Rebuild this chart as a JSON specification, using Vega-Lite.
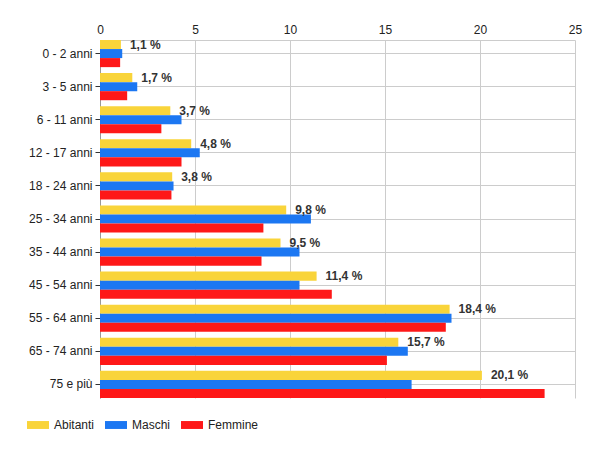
{
  "$schema": "https://vega.github.io/schema/vega-lite/v6.json",
  "autosize": {"type": "none"},
  "width": 475,
  "height": 358,
  "padding": {"left": 100, "top": 40, "right": 25, "bottom": 52},
  "background": "white",
  "config": {
    "font": "Liberation Sans",
    "view": {"stroke": null},
    "axis": {"labelFont": "Liberation Sans", "labelFontSize": 12, "labelColor": "#222222"}
  },
  "data": {
    "values": [
      {"eta": "0 - 2 anni", "serie": "Abitanti", "valore": 1.1, "etichetta": "1,1 %"},
      {"eta": "0 - 2 anni", "serie": "Maschi", "valore": 1.17},
      {"eta": "0 - 2 anni", "serie": "Femmine", "valore": 1.06},
      {"eta": "3 - 5 anni", "serie": "Abitanti", "valore": 1.7, "etichetta": "1,7 %"},
      {"eta": "3 - 5 anni", "serie": "Maschi", "valore": 1.96},
      {"eta": "3 - 5 anni", "serie": "Femmine", "valore": 1.43},
      {"eta": "6 - 11 anni", "serie": "Abitanti", "valore": 3.7, "etichetta": "3,7 %"},
      {"eta": "6 - 11 anni", "serie": "Maschi", "valore": 4.29},
      {"eta": "6 - 11 anni", "serie": "Femmine", "valore": 3.23},
      {"eta": "12 - 17 anni", "serie": "Abitanti", "valore": 4.8, "etichetta": "4,8 %"},
      {"eta": "12 - 17 anni", "serie": "Maschi", "valore": 5.25},
      {"eta": "12 - 17 anni", "serie": "Femmine", "valore": 4.29},
      {"eta": "18 - 24 anni", "serie": "Abitanti", "valore": 3.8, "etichetta": "3,8 %"},
      {"eta": "18 - 24 anni", "serie": "Maschi", "valore": 3.87},
      {"eta": "18 - 24 anni", "serie": "Femmine", "valore": 3.76},
      {"eta": "25 - 34 anni", "serie": "Abitanti", "valore": 9.8, "etichetta": "9,8 %"},
      {"eta": "25 - 34 anni", "serie": "Maschi", "valore": 11.1},
      {"eta": "25 - 34 anni", "serie": "Femmine", "valore": 8.6},
      {"eta": "35 - 44 anni", "serie": "Abitanti", "valore": 9.5, "etichetta": "9,5 %"},
      {"eta": "35 - 44 anni", "serie": "Maschi", "valore": 10.5},
      {"eta": "35 - 44 anni", "serie": "Femmine", "valore": 8.5},
      {"eta": "45 - 54 anni", "serie": "Abitanti", "valore": 11.4, "etichetta": "11,4 %"},
      {"eta": "45 - 54 anni", "serie": "Maschi", "valore": 10.5},
      {"eta": "45 - 54 anni", "serie": "Femmine", "valore": 12.2},
      {"eta": "55 - 64 anni", "serie": "Abitanti", "valore": 18.4, "etichetta": "18,4 %"},
      {"eta": "55 - 64 anni", "serie": "Maschi", "valore": 18.5},
      {"eta": "55 - 64 anni", "serie": "Femmine", "valore": 18.2},
      {"eta": "65 - 74 anni", "serie": "Abitanti", "valore": 15.7, "etichetta": "15,7 %"},
      {"eta": "65 - 74 anni", "serie": "Maschi", "valore": 16.2},
      {"eta": "65 - 74 anni", "serie": "Femmine", "valore": 15.1},
      {"eta": "75 e più", "serie": "Abitanti", "valore": 20.1, "etichetta": "20,1 %"},
      {"eta": "75 e più", "serie": "Maschi", "valore": 16.4},
      {"eta": "75 e più", "serie": "Femmine", "valore": 23.4}
    ]
  },
  "encoding": {
    "y": {
      "field": "eta",
      "type": "nominal",
      "sort": null,
      "title": null,
      "scale": {"paddingInner": 0.18, "paddingOuter": 0},
      "axis": {
        "domainColor": "#999999",
        "tickColor": "#333333",
        "tickSize": 5,
        "labelPadding": 3,
        "grid": true,
        "gridColor": "#cccccc"
      }
    },
    "x": {
      "field": "valore",
      "type": "quantitative",
      "title": null,
      "scale": {"domain": [0, 25], "nice": false},
      "axis": {
        "orient": "top",
        "values": [0, 5, 10, 15, 20, 25],
        "ticks": false,
        "labelPadding": 4,
        "domainColor": "#cccccc",
        "gridColor": "#cccccc",
        "labelFlush": false
      }
    },
    "yOffset": {
      "field": "serie",
      "type": "nominal",
      "sort": ["Abitanti", "Maschi", "Femmine"],
      "scale": {"domain": ["Abitanti", "Maschi", "Femmine"], "paddingInner": 0, "paddingOuter": 0}
    }
  },
  "layer": [
    {
      "mark": {"type": "bar"},
      "encoding": {
        "color": {
          "field": "serie",
          "type": "nominal",
          "scale": {"domain": ["Abitanti", "Maschi", "Femmine"], "range": ["#F9D43A", "#1C77F2", "#FE1818"]},
          "legend": {
            "title": null,
            "orient": "none",
            "direction": "horizontal",
            "legendX": -73,
            "legendY": 374,
            "symbolType": "M-1,-0.36L1,-0.36L1,0.36L-1,0.36Z",
            "symbolSize": 484,
            "symbolStrokeWidth": 0,
            "symbolOpacity": 1,
            "labelFontSize": 12,
            "labelColor": "#222222",
            "labelFont": "Liberation Sans",
            "columnPadding": 10,
            "labelOffset": 5
          }
        }
      }
    },
    {
      "transform": [{"filter": "datum.etichetta != null"}],
      "mark": {"type": "text", "align": "left", "baseline": "middle", "dx": 9, "fontWeight": "bold", "fontSize": 12, "color": "#333333", "font": "Liberation Sans"},
      "encoding": {"text": {"field": "etichetta", "type": "nominal"}}
    }
  ]
}
